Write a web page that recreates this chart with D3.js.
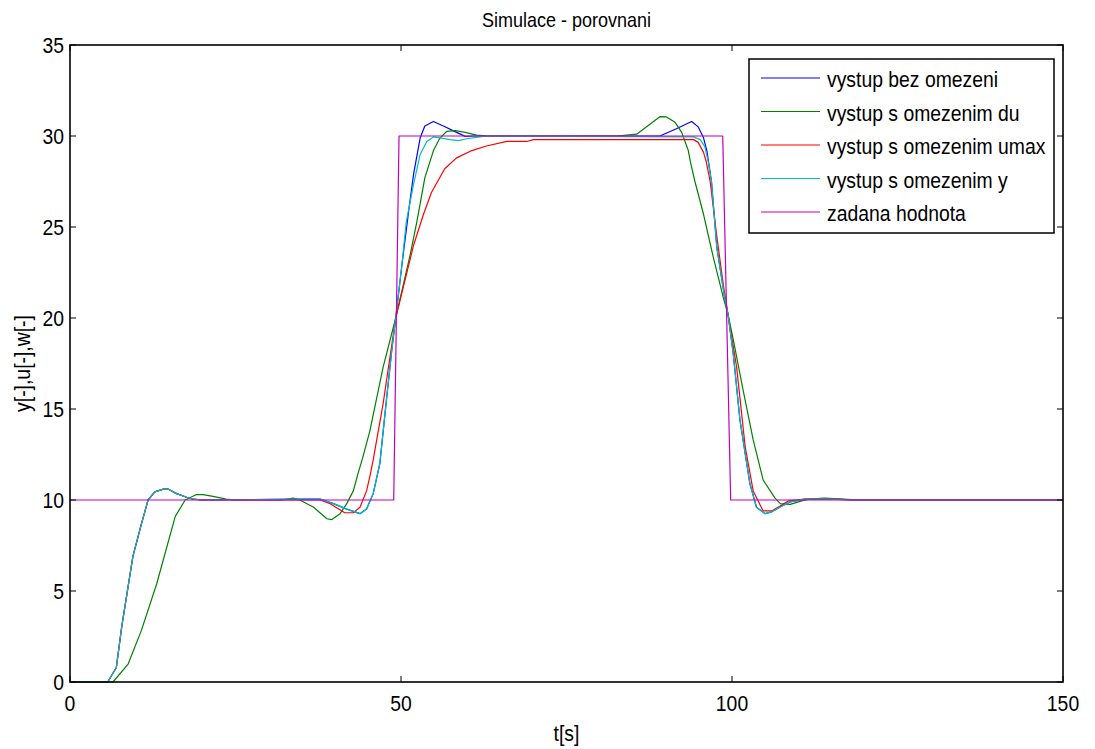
<!DOCTYPE html>
<html><head><meta charset="utf-8">
<script src="https://cdn.jsdelivr.net/npm/d3@7"></script>
<style>body{margin:0;background:#fff}svg{display:block}text{font-family:"Liberation Sans",Arial,sans-serif;fill:#000}</style>
</head><body>
<svg id="c" width="1095" height="749"></svg>
<script>
const xTicks=[0,50,100,150];
const yTicks=[0,5,10,15,20,25,30,35];
const seriesNames=["vystup bez omezeni","vystup s omezenim du","vystup s omezenim umax","vystup s omezenim y","zadana hodnota"];
const seriesColors=["#0000ff","#008000","#ff0000","#00bfbf","#bf00bf"];

const tBlue=[0,5.7,7.0,7.8,9.5,10.8,11.8,12.8,14.1,14.8,16.1,17.6,18.6,20,34.7,37.8,39.8,41.8,43.8,44.8,45.8,46.8,47.8,48.6,49.2,50.1,51.2,51.9,52.9,53.6,54.9,56.4,58.4,59.7,61,89.1,91.6,93.9,94.9,95.7,96.2,96.9,97.7,98.9,99.4,100.2,101.2,102.7,103.7,105,106,107.2,108.8,111,115,118,150];
const yBlue=[0,0,0.8,3.0,6.9,8.7,10.0,10.45,10.6,10.6,10.35,10.15,10.05,10,10.05,10.05,9.8,9.5,9.25,9.5,10.35,12.0,15.5,18.2,20,22.8,26.0,27.9,29.9,30.55,30.8,30.55,30.2,29.98,30,30,30.4,30.8,30.5,29.9,29.2,27.5,23.9,21.1,20.2,18.0,14.4,10.9,9.6,9.25,9.35,9.6,9.9,10.05,10.05,10,10];

const tGreen=[0,6.5,8.8,10.8,13.1,15.9,17.4,19.1,20.1,21.6,23.6,25,32,33.7,34.7,36.8,38.8,39.5,40.8,41.8,42.8,43.5,44.2,45.3,47.3,49.2,51.4,52.4,53.6,54.9,55.9,56.9,58.2,59.7,61.4,63.4,82.6,85.6,87.6,89.1,90.1,91.4,92.4,93.4,93.7,94.4,95.7,97.2,98.7,99.4,100.2,101.7,103.2,104.7,106.5,107.3,108.8,110.8,111.7,114,117,119,150];
const yGreen=[0,0,1.0,2.85,5.4,9.1,10,10.3,10.3,10.2,10.05,10,10,10.1,10.0,9.6,8.97,8.92,9.25,9.8,10.5,11.45,12.3,13.8,17.3,20,23.5,25.3,27.7,29.2,29.9,30.25,30.3,30.2,30.05,30,30,30.1,30.65,31.06,31.05,30.75,30.2,29.2,28.6,27.5,25.7,23.3,21.1,20.2,18.8,16.0,13.3,11.1,10.1,9.8,9.76,9.98,10.05,10.1,10.05,10,10];

const tRed=[0,5.7,7.0,7.8,9.5,10.8,11.8,12.8,14.1,14.8,16.1,17.6,18.6,20,34.7,37.8,39.3,41.5,42.8,43.8,44.8,45.3,45.8,47.3,49.2,51.9,53.4,54.6,56.6,58.4,60.7,62.9,66,69,70,94.2,94.9,95.7,96.1,96.7,97.7,98.7,99.4,100.7,102,103.2,104.7,106,107.2,108.5,111,116,118,150];
const yRed=[0,0,0.8,3.0,6.9,8.7,10.0,10.45,10.6,10.6,10.35,10.15,10.05,10,10,10,9.8,9.3,9.3,9.6,10.5,11.3,12.2,15.3,20,24.0,25.7,26.9,28.2,28.8,29.2,29.45,29.7,29.7,29.8,29.8,29.65,29.1,28.6,27.5,24.5,21.8,20.2,17.3,12.9,10.5,9.4,9.4,9.65,9.95,10.05,10.05,10,10];

const tCyan=[0,5.7,7.0,7.8,9.5,10.8,11.8,12.8,14.1,14.8,16.1,17.6,18.6,20,34.7,37.8,39.8,41.8,43.8,44.8,45.8,46.8,47.8,48.6,49.2,50.1,50.8,51.9,52.9,53.9,54.9,55.9,57.4,58.7,59.9,61.9,63,94.2,95.2,95.9,96.4,96.9,97.7,98.9,99.4,100.2,101.2,102.7,103.7,105,106,107.2,108.8,111,115,118,150];
const yCyan=[0,0,0.8,3.0,6.9,8.7,10.0,10.45,10.6,10.6,10.35,10.15,10.05,10,10.05,10.05,9.8,9.5,9.25,9.5,10.35,12.0,15.5,18.2,20,22.8,25.3,27.35,29.0,29.7,29.95,29.9,29.8,29.75,29.85,29.95,30,29.95,29.8,29.4,28.6,27.5,23.9,21.1,20.2,18.0,14.4,10.9,9.6,9.25,9.35,9.6,9.9,10.05,10.05,10,10];

const tSet=[0,48.9,49.7,98.6,99.8,150];
const ySet=[10,10,30,30,10,10];

const svg=d3.select("#c");
const L=70,R=1063,T=45,B=682;
const x=d3.scaleLinear().domain([0,150]).range([L,R]);
const y=d3.scaleLinear().domain([0,35]).range([B,T]);
const SX=0.88;

function txt(g,str,px,py,size,anchor,sx,rot){
  const t=g.append("text").attr("font-size",size).attr("text-anchor",anchor).text(str);
  t.attr("transform",`translate(${px},${py})${rot?` rotate(${rot})`:""} scale(${sx},1)`);
  return t;
}

const plot=svg.append("g");
const series=[[tBlue,yBlue],[tGreen,yGreen],[tRed,yRed],[tCyan,yCyan],[tSet,ySet]];
const line=d3.line().x(d=>x(d[0])).y(d=>y(d[1]));
series.forEach((s,i)=>{
  const pts=s[0].map((tv,k)=>[tv,s[1][k]]);
  plot.append("path").datum(pts).attr("d",line).attr("fill","none")
    .attr("stroke",seriesColors[i]).attr("stroke-width",1.2).attr("stroke-linejoin","round");
});

const ax=svg.append("g");
const tl=6;
xTicks.forEach(v=>{
  ax.append("line").attr("x1",x(v)).attr("x2",x(v)).attr("y1",B).attr("y2",B-tl).attr("stroke","#000");
  ax.append("line").attr("x1",x(v)).attr("x2",x(v)).attr("y1",T).attr("y2",T+tl).attr("stroke","#000");
  txt(ax,String(v),x(v),711,22,"middle",SX);
});
yTicks.forEach(v=>{
  ax.append("line").attr("x1",L).attr("x2",L+tl).attr("y1",y(v)).attr("y2",y(v)).attr("stroke","#000");
  ax.append("line").attr("x1",R).attr("x2",R-tl).attr("y1",y(v)).attr("y2",y(v)).attr("stroke","#000");
  txt(ax,String(v),64,y(v)+8,22,"end",SX);
});
ax.append("rect").attr("x",L).attr("y",T).attr("width",R-L).attr("height",B-T)
  .attr("fill","none").attr("stroke","#000").attr("stroke-width",1.6);

txt(svg,"Simulace - porovnani",(L+R)/2,27,20,"middle",0.9);
txt(svg,"t[s]",(L+R)/2,741,22,"middle",SX);
txt(svg,"y[-],u[-],w[-]",30,(T+B)/2,22,"middle",SX,-90);

const lg=svg.append("g");
lg.append("rect").attr("x",749).attr("y",59).attr("width",305).attr("height",174)
  .attr("fill","#fff").attr("stroke","#000").attr("stroke-width",1.5);
seriesNames.forEach((n,i)=>{
  const yy=78+i*33.5;
  lg.append("line").attr("x1",761).attr("x2",820).attr("y1",yy).attr("y2",yy)
    .attr("stroke",seriesColors[i]).attr("stroke-width",1.2);
  txt(lg,n,827,yy+9,22,"start",SX);
});
</script>
</body></html>
